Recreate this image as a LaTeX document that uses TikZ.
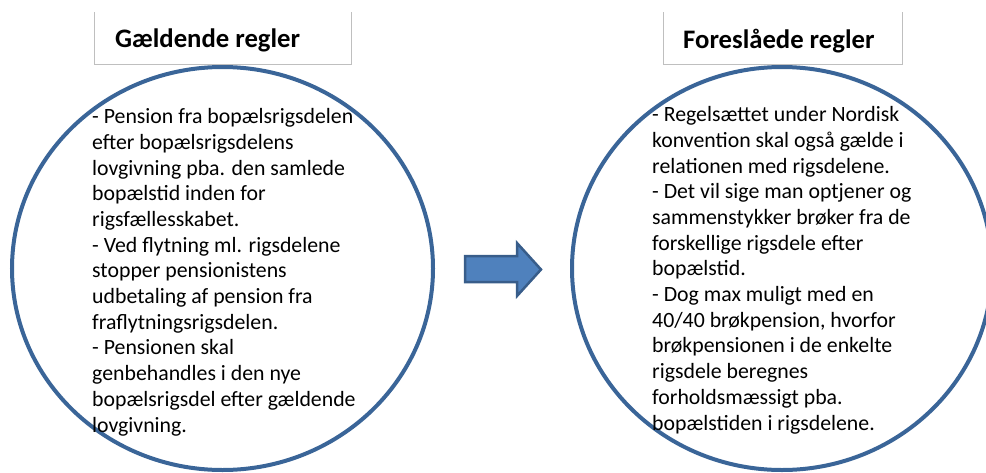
\documentclass[tikz,border=0pt]{standalone}
\usepackage{fontspec}
\setmainfont{Carlito}
\definecolor{ringblue}{HTML}{3A6598}
\definecolor{arrowfill}{HTML}{4F81BD}
\definecolor{arrowline}{HTML}{385D8A}
\definecolor{boxgray}{HTML}{BFBFBF}
\tikzset{
  titletext/.style={anchor=base west, inner sep=0pt, font=\fontsize{26.7}{31}\selectfont\bfseries},
  bodytext/.style={anchor=base west, inner sep=0pt, align=left, font=\fontsize{21.8}{25.7}\selectfont},
  ring/.style={ringblue, line width=4pt},
  titlebox/.style={boxgray, line width=1pt}
}
\begin{document}
\begin{tikzpicture}[x=1pt,y=-1pt]
\useasboundingbox (0,0) rectangle (986,472);
% title boxes (top edge is cut off)
\draw[titlebox] (94,12) -- (94,64) -- (351,64) -- (351,12);
\draw[titlebox] (663,12) -- (663,64) -- (902,64) -- (902,12);
\node (oldtitle) at (115,47) [titletext] {Gældende regler};
\node (newtitle) at (683,48) [titletext] {Foreslåede regler};
% the two circles
\draw[ring] (222.5,268.5) ellipse [x radius=210.5, y radius=201.5];
\draw[ring] (782,268.5) ellipse [x radius=210, y radius=201.5];
% block arrow
\coordinate (A) at (465,256);
\coordinate (B) at (517,256);
\coordinate (C) at (517,243);
\coordinate (D) at (541,269.5);
\coordinate (E) at (517,296);
\coordinate (F) at (517,282);
\coordinate (G) at (465,282);
\draw[arrowline, fill=arrowfill, line width=2.5pt, line join=miter] (A) -- (B) -- (C) -- (D) -- (E) -- (F) -- (G) -- cycle;
% texts (anchored at the last line)
\node (oldrules) at (92,432) [bodytext] {- Pension fra bopælsrigsdelen\\efter bopælsrigsdelens\\lovgivning pba. den samlede\\bopælstid inden for\\rigsfællesskabet.\\- Ved flytning ml. rigsdelene\\stopper pensionistens\\udbetaling af pension fra\\fraflytningsrigsdelen.\\- Pensionen skal\\genbehandles i den nye\\bopælsrigsdel efter gældende\\lovgivning.};
\node (newrules) at (652,430) [bodytext] {- Regelsættet under Nordisk\\konvention skal også gælde i\\relationen med rigsdelene.\\- Det vil sige man optjener og\\sammenstykker brøker fra de\\forskellige rigsdele efter\\bopælstid.\\- Dog max muligt med en\\40/40 brøkpension, hvorfor\\brøkpensionen i de enkelte\\rigsdele beregnes\\forholdsmæssigt pba.\\bopælstiden i rigsdelene.};
\end{tikzpicture}
\end{document}
